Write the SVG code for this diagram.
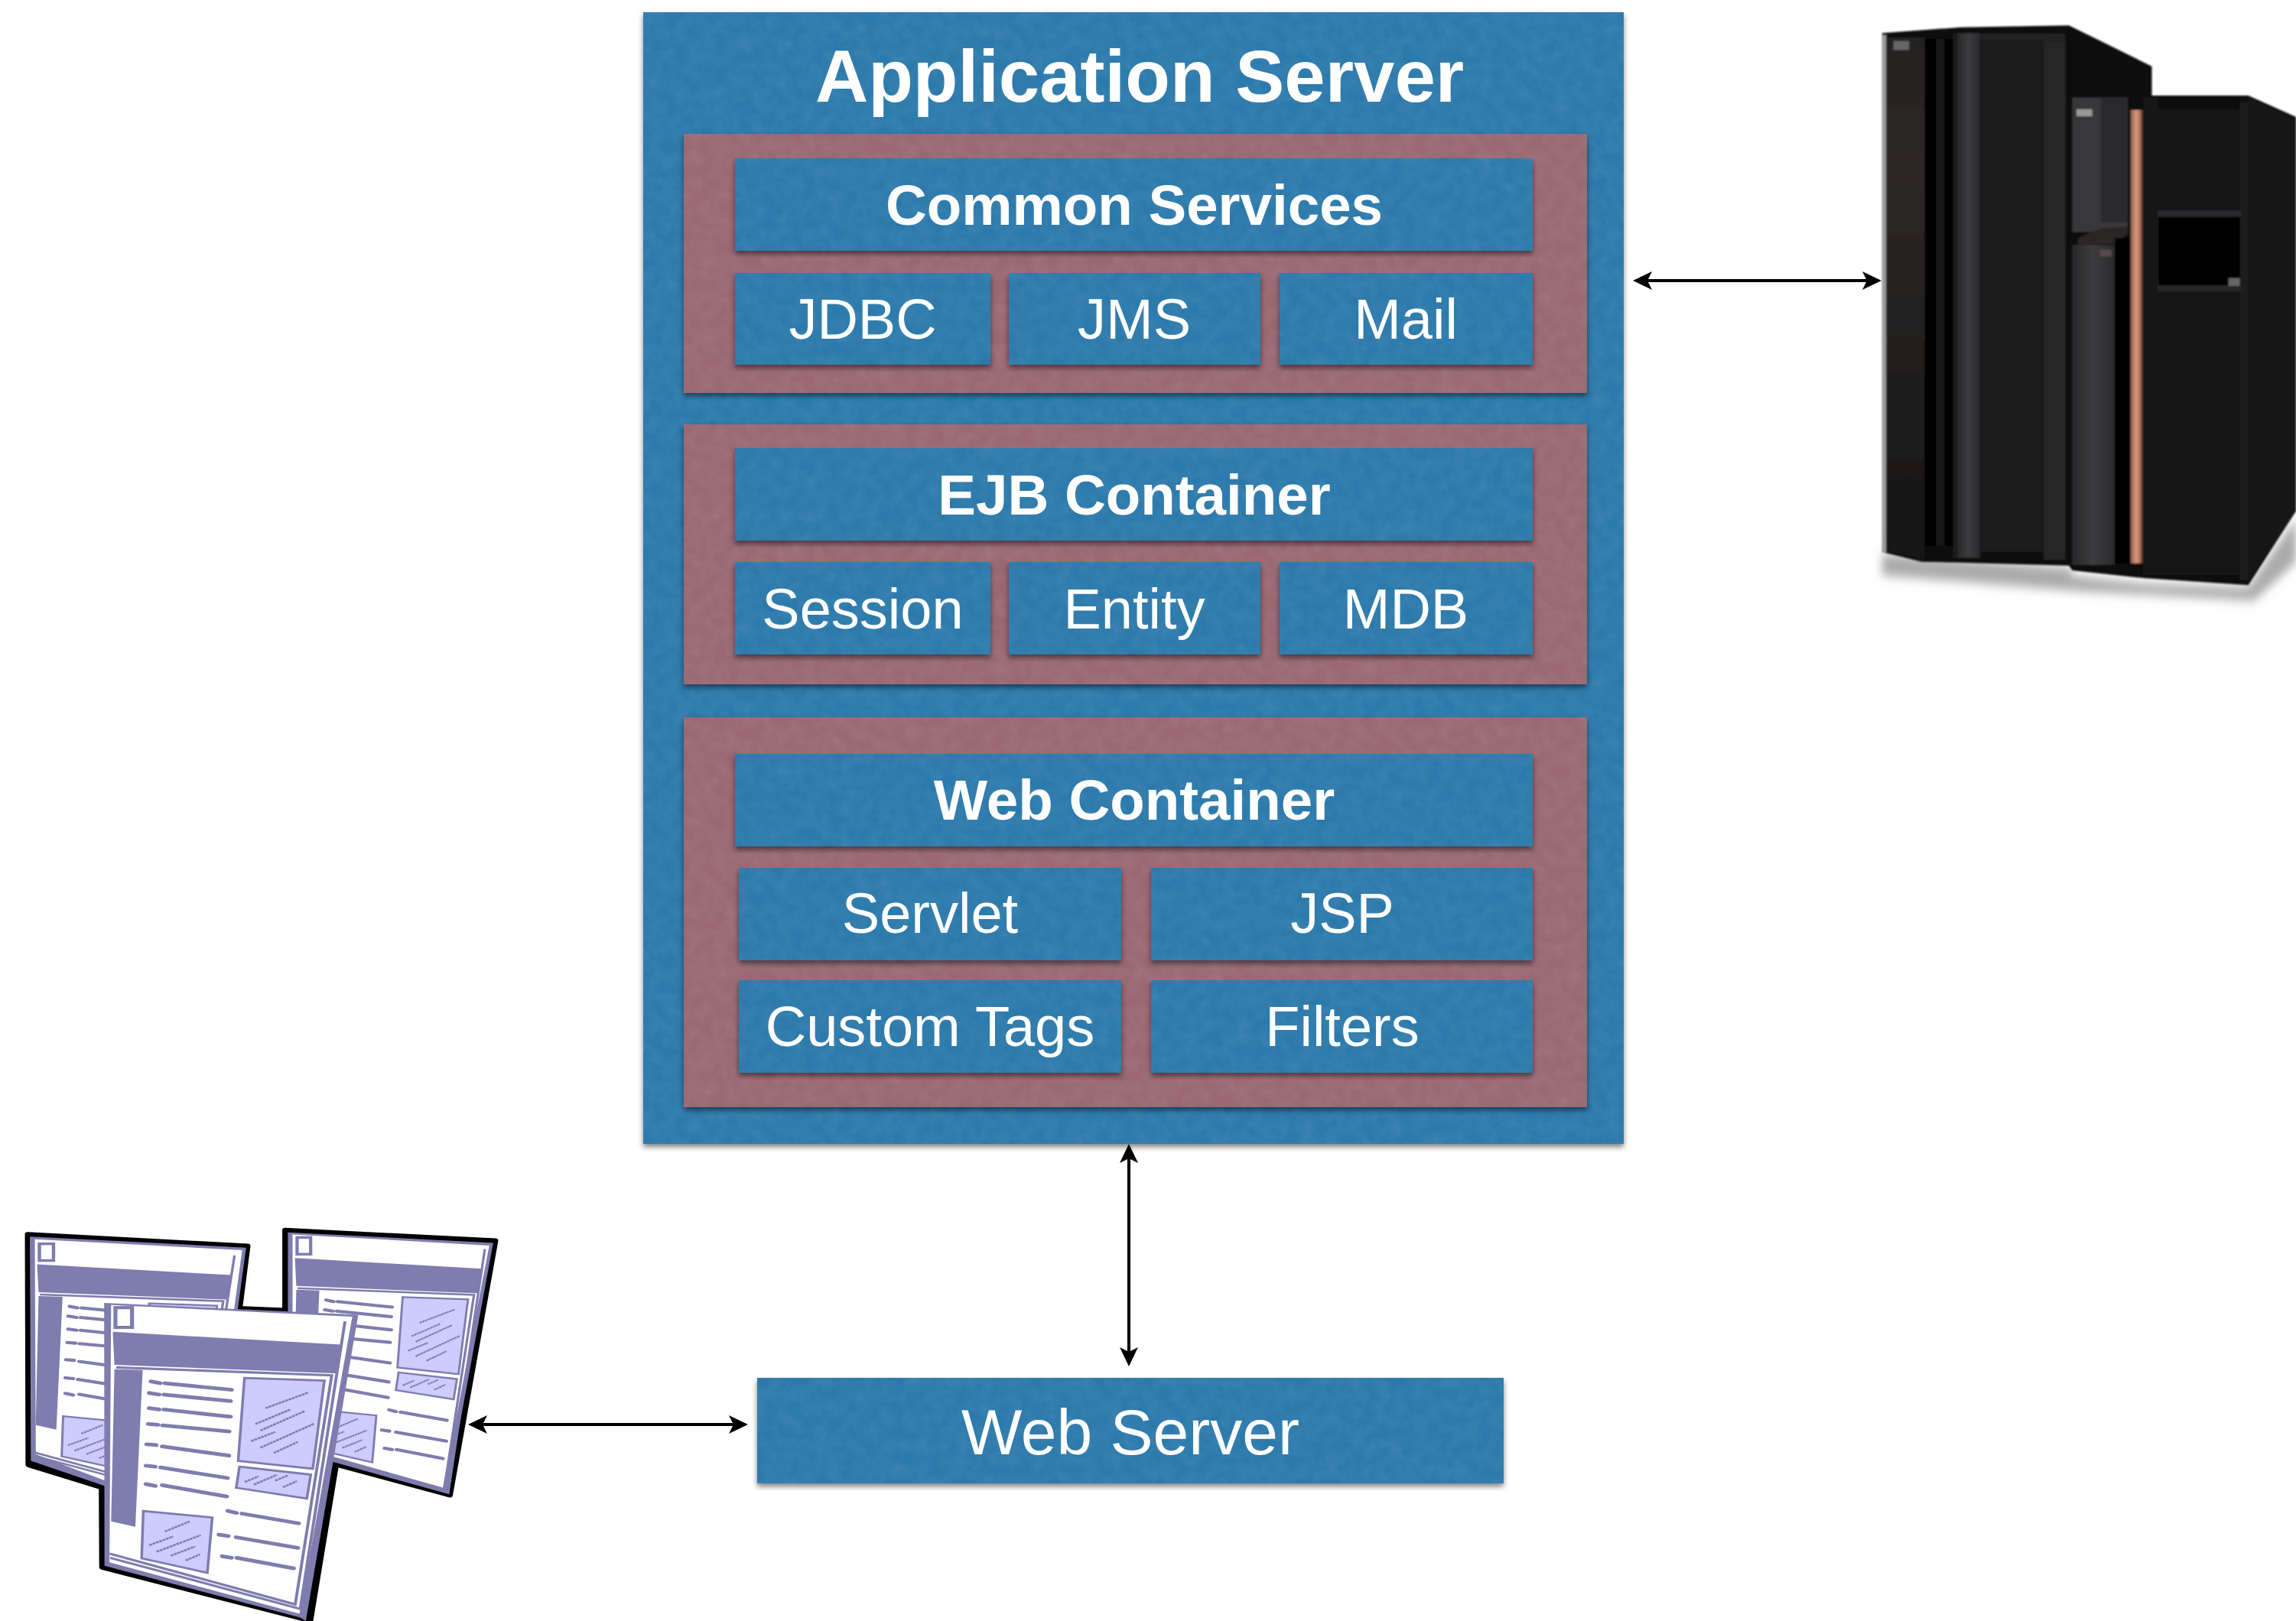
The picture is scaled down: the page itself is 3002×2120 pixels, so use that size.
<svg xmlns="http://www.w3.org/2000/svg" xmlns:xlink="http://www.w3.org/1999/xlink" width="3002" height="2120" viewBox="0 0 3002 2120">
<style>
.b{fill:#2c7aac;filter:url(#paper)}
.r{fill:#996873;filter:url(#paper)}
.t{font-family:"Liberation Sans",Arial,sans-serif;fill:#fff;text-anchor:middle;font-size:74px}
.h{font-weight:700;font-size:74.5px}
.c{stroke:#000;stroke-width:4;fill:none;marker-start:url(#ah);marker-end:url(#ah)}
.p{fill:#7f7cae}
.w{fill:#fff}
.l{fill:#ccccff;stroke:#7f7cae;stroke-width:8}
.d{stroke:#7f7cae;stroke-width:14;stroke-linecap:round;fill:none}
.s{stroke:#7f7cae;stroke-width:7;stroke-dasharray:9 2;fill:none}
.f{stroke:#7f7cae;stroke-width:9;fill:none}
</style>
<defs>
<filter id="paper" x="-3%" y="-3%" width="106%" height="110%" color-interpolation-filters="sRGB">
<feTurbulence type="fractalNoise" baseFrequency="0.06" numOctaves="4" seed="7" result="n"/>
<feColorMatrix in="n" type="matrix" values="0 0 0 0 1 0 0 0 0 1 0 0 0 0 1 0.12 0 0 0 -0.035" result="na"/>
<feComposite in="na" in2="SourceAlpha" operator="in" result="tex"/>
<feGaussianBlur in="SourceAlpha" stdDeviation="3.5" result="bl"/>
<feOffset in="bl" dy="4" result="off"/>
<feFlood flood-color="#000" flood-opacity="0.5"/>
<feComposite in2="off" operator="in" result="sh"/>
<feMerge><feMergeNode in="sh"/><feMergeNode in="SourceGraphic"/><feMergeNode in="tex"/></feMerge>
</filter>
<filter id="soft" x="-5%" y="-5%" width="110%" height="110%"><feGaussianBlur stdDeviation="2.5"/></filter>
<filter id="blurS" x="-10%" y="-20%" width="120%" height="140%"><feGaussianBlur stdDeviation="14"/></filter>
<marker id="ah" markerUnits="userSpaceOnUse" markerWidth="26" markerHeight="26" refX="15" refY="12" orient="auto-start-reverse" overflow="visible"><path d="M25,12 L0,0 L6,12 L0,24 Z" fill="#000"/></marker>
<linearGradient id="copper" x1="0" x2="1" y1="0" y2="0"><stop offset="0" stop-color="#8e5a45"/><stop offset=".45" stop-color="#d49a80"/><stop offset=".7" stop-color="#b87a60"/><stop offset="1" stop-color="#3c2016"/></linearGradient>
<linearGradient id="panel" x1="0" x2="1" y1="0" y2="0"><stop offset="0" stop-color="#29292b"/><stop offset=".5" stop-color="#3c3c3f"/><stop offset="1" stop-color="#2a2a2c"/></linearGradient>
<linearGradient id="warm" x1="0" x2="0" y1="0" y2="1"><stop offset="0" stop-color="#242122"/><stop offset=".25" stop-color="#2e2827"/><stop offset=".6" stop-color="#211f1f"/><stop offset="1" stop-color="#151515"/></linearGradient>
<g id="content">
<path class="p" d="M340,470 L1028,518 L1018,628 L345,595 Z"/>
<path class="p" d="M345,612 L430,615 L408,1210 L335,1190 Z"/>
<path class="f" d="M350,605 L1000,635 L890,1505 L330,1312"/>
<path class="f" d="M332,1328 L905,1522 L1040,430"/>
<rect x="348" y="378" width="50" height="75" class="w" stroke="#7f7cae" stroke-width="12"/>
<path class="d" d="M455,658L483,665M497,665L698,690M450,702L480,708M494,708L695,733M450,760L480,765M494,765L695,792M447,820L476,823M490,825L691,848M442,897L471,900M489,905L690,940M440,978L468,982M484,985L686,1025M440,1048L468,1055M489,1052L683,1095M687,1150L713,1158M729,1160L900,1197M660,1240L688,1245M712,1250L898,1290M670,1322L698,1328M714,1328L885,1368"/>
<path class="l" d="M737,645 L978,655 L943,990 L718,960 Z"/>
<path class="l" d="M722,982 L937,1012 L925,1103 L712,1062 Z"/>
<path class="l" d="M432,1150 L640,1175 L625,1385 L427,1330 Z"/>
<path class="s" d="M800,760L930,700M770,820L875,765M785,845L920,770M757,885L830,850M785,910L948,818M825,930L898,888M738,1040L780,1018M765,1050L835,1013M830,1035L868,1015M853,1060L895,1037M497,1228L572,1190M450,1280L522,1247M472,1305L605,1242M515,1320L588,1285M560,1338L603,1315"/>
</g>
</defs>
<rect width="3002" height="2120" fill="#fff"/>

<g id="application-server">
<rect class="b" x="841" y="16" width="1282" height="1480"/>
<text class="t h" x="1490" y="133" style="font-size:96px">Application Server</text>
</g>
<g id="common-services-group">
<rect class="r" x="894" y="175" width="1181" height="339"/>
<rect class="b" x="961" y="207" width="1043" height="121"/>
<text class="t h" x="1483" y="294">Common Services</text>
<g id="jdbc"><rect class="b" x="961" y="357" width="334" height="120"/><text class="t" x="1128" y="443">JDBC</text></g>
<g id="jms"><rect class="b" x="1319" y="357" width="329" height="120"/><text class="t" x="1483" y="443">JMS</text></g>
<g id="mail"><rect class="b" x="1673" y="357" width="331" height="120"/><text class="t" x="1838" y="443">Mail</text></g>
</g>
<g id="ejb-container-group">
<rect class="r" x="894" y="555" width="1181" height="340"/>
<rect class="b" x="961" y="586" width="1043" height="121"/>
<text class="t h" x="1483" y="673">EJB Container</text>
<g id="session"><rect class="b" x="961" y="735" width="334" height="121"/><text class="t" x="1128" y="822">Session</text></g>
<g id="entity"><rect class="b" x="1319" y="735" width="329" height="121"/><text class="t" x="1483" y="822">Entity</text></g>
<g id="mdb"><rect class="b" x="1673" y="735" width="331" height="121"/><text class="t" x="1838" y="822">MDB</text></g>
</g>
<g id="web-container-group">
<rect class="r" x="894" y="938" width="1181" height="510"/>
<rect class="b" x="961" y="986" width="1043" height="121"/>
<text class="t h" x="1483" y="1072">Web Container</text>
<g id="servlet"><rect class="b" x="966" y="1135" width="500" height="121"/><text class="t" x="1216" y="1220">Servlet</text></g>
<g id="jsp"><rect class="b" x="1505" y="1135" width="499" height="121"/><text class="t" x="1755" y="1220">JSP</text></g>
<g id="custom-tags"><rect class="b" x="966" y="1282" width="500" height="121"/><text class="t" x="1216" y="1368">Custom Tags</text></g>
<g id="filters"><rect class="b" x="1505" y="1282" width="499" height="121"/><text class="t" x="1755" y="1368">Filters</text></g>
</g>
<g id="web-server">
<rect class="b" x="990" y="1802" width="976" height="138"/>
<text class="t" x="1478" y="1902" style="font-size:84px">Web Server</text>
</g>

<g id="mainframe" transform="translate(2420,0) scale(0.3712,0.5102)">
<path d="M110,1420 L770,1455 L780,1475 L1030,1495 L1400,1505 L1568,1330 L1568,1440 L1420,1540 L800,1515 L110,1475 Z" fill="#aaa" filter="url(#blurS)"/>
<g filter="url(#soft)">
<path d="M110,85 L385,70 L768,65 L1060,170 L1060,245 L1400,245 L1568,300 L1568,1310 L1400,1500 L1030,1482 L780,1462 L768,1450 L385,1442 L250,1440 L110,1415 Z" fill="#0d0d0e"/>
<rect x="110" y="90" width="15" height="1325" fill="#9a9a9a"/>
<path d="M125,95 H260 V1435 L125,1412 Z" fill="url(#warm)"/>
<rect x="260" y="100" width="40" height="1300" fill="#040404"/>
<rect x="300" y="100" width="30" height="1300" fill="#151515"/>
<rect x="330" y="100" width="30" height="1300" fill="#020202"/>
<rect x="360" y="85" width="15" height="1345" fill="#1c1c1c"/>
<rect x="375" y="85" width="80" height="1345" fill="url(#panel)"/>
<rect x="455" y="105" width="225" height="1310" fill="#1a1a1c"/>
<rect x="455" y="85" width="300" height="20" fill="#212123"/>
<rect x="680" y="105" width="75" height="1330" fill="#262628"/>
<rect x="150" y="105" width="55" height="23" fill="#666"/>
<rect x="780" y="250" width="195" height="345" fill="#38383b"/>
<rect x="880" y="250" width="95" height="320" fill="#2b2b2d"/>
<path d="M800,610 L880,585 L975,580 L975,600 L930,625 L800,628 Z" fill="#2c2725"/>
<rect x="780" y="628" width="150" height="820" fill="url(#panel)"/>
<rect x="930" y="610" width="55" height="835" fill="#020203"/>
<rect x="985" y="282" width="45" height="1162" fill="url(#copper)"/>
<rect x="1030" y="250" width="50" height="1225" fill="#141618"/>
<rect x="795" y="280" width="55" height="18" fill="#999"/>
<rect x="878" y="640" width="40" height="18" fill="#5a4a4a"/>
<rect x="1080" y="280" width="290" height="1195" fill="#151517"/>
<rect x="1370" y="262" width="30" height="1225" fill="#1b1b1e"/>
<rect x="1080" y="540" width="295" height="16" fill="#2b2b2f"/>
<rect x="1085" y="556" width="285" height="175" fill="#040406"/>
<rect x="1080" y="731" width="295" height="16" fill="#26262a"/>
<rect x="1330" y="713" width="40" height="20" fill="#666"/>
<path d="M1400,250 L1568,305 L1568,1310 L1400,1490 Z" fill="#131315"/>
</g>
</g>

<g id="web-pages" transform="translate(0,1580) scale(0.4337,0.3444)">
<g stroke="#000" stroke-width="18" stroke-linejoin="round" fill="#000">
<path d="M84,100 L746,144 L640,1190 L86,975 Z"/>
<path d="M860,84 L1493,124 L1356,1090 L860,921 Z"/>
<path d="M304,358 L1088,400 L935,1568 L915,1560 L308,1364 Z"/>
</g>
<path class="p" d="M90,108 L742,150 L630,1190 L93,960 Z"/>
<path class="w" d="M105,118 L730,160 L620,1180 L108,935 Z"/>
<g transform="matrix(.85,0,0,.848,-177,-185)"><use href="#content" xlink:href="#content"/></g>
<path class="p" d="M868,92 L1487,132 L1348,1080 L868,915 Z"/>
<path class="w" d="M882,100 L1475,142 L1335,1062 L882,905 Z"/>
<g transform="matrix(.818,0,0,.848,611,-209)"><use href="#content" xlink:href="#content"/></g>
<path class="p" d="M314,360 L1080,405 L922,1568 L905,1555 L315,1358 Z"/>
<path class="w" d="M335,368 L1062,412 L903,1540 L330,1345 Z"/>
<use href="#content" xlink:href="#content"/>
</g>

<g id="connectors">
<line class="c" x1="2145" y1="367" x2="2450" y2="367"/>
<line class="c" x1="1476" y1="1506" x2="1476" y2="1777"/>
<line class="c" x1="622" y1="1863" x2="968" y2="1863"/>
</g>
</svg>
